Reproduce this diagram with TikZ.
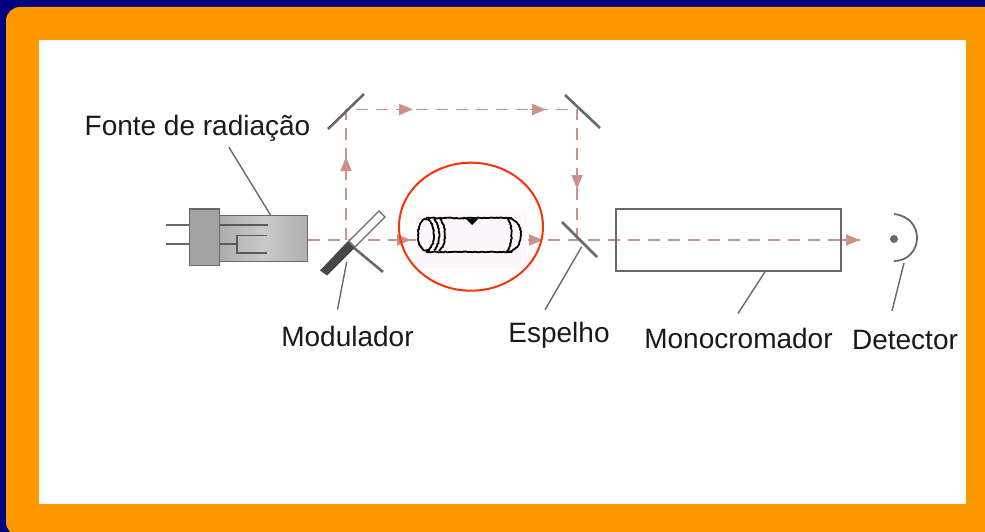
\documentclass[tikz,border=0pt]{standalone}
\usepackage{fontspec}
\setmainfont{Liberation Sans}
\usetikzlibrary{arrows.meta}
\usetikzlibrary{decorations.pathmorphing}
\usetikzlibrary{calc}
\definecolor{navyback}{RGB}{0,0,128}
\definecolor{orangeframe}{RGB}{255,153,0}
\definecolor{beamcol}{RGB}{205,145,138}
\definecolor{greyline}{RGB}{105,105,105}
\definecolor{redring}{RGB}{250,50,10}
\tikzset{
    beam/.style={beamcol, line width=1.9pt, dash pattern=on 12pt off 8pt},
    beamtip/.style={beamcol, line width=1.9pt, -{Triangle[length=14pt,width=11pt]}},
    mirror/.style={greyline, line width=2.6pt},
    leader/.style={greyline, line width=1.4pt},
    caption/.style={inner sep=0pt, font=\fontsize{28}{30}\selectfont, text=black!90},
    tubeline/.style={black, line width=1.8pt, decorate, decoration={random steps,segment length=1.6pt,amplitude=0.5pt}},
}
\begin{document}
\begin{tikzpicture}[x=1pt,y=-1pt]
    \useasboundingbox (0,0) rectangle (985,532);
    \fill[navyback] (0,0) rectangle (985,532);
    \fill[orangeframe, rounded corners=14pt] (6,7) rectangle (1010,536);
    \fill[white] (39,40) rectangle (966,504);

    % named points of the beam
    \coordinate (modcentre) at (346,240);
    \coordinate (topleft) at (346,109.5);
    \coordinate (topright) at (577,109.5);
    \coordinate (splitcentre) at (577,240);
    \coordinate (beamend) at (860,240);

    % source
    \node[draw=greyline, line width=1.4pt, left color=gray!65, right color=gray!62, middle color=gray!42, minimum width=88.5pt, minimum height=46pt, inner sep=0pt] (lampbody) at (263.5,238.7) {};
    \node[draw=greyline, line width=1.4pt, fill=gray!72, minimum width=30pt, minimum height=56.5pt, inner sep=0pt] (lampbase) at (204.3,237.4) {};
    \coordinate (pina) at (166,225);
    \coordinate (pinb) at (166,244);
    \draw[leader] (pina) -- (pina -| lampbase.west);
    \draw[leader] (pinb) -- (pinb -| lampbase.west);
    \draw[greyline!85!black, line width=1.5pt] (lampbase.east |- pina) -- (268,225);
    \draw[greyline!85!black, line width=1.5pt] (lampbase.east |- pinb) -- (237,244);
    \draw[greyline!85!black, line width=1.5pt] (267,235.7) -- (237,235.7) -- (237,253) -- (267,253);

    % beam
    \draw[beam] (lampbody.east |- modcentre) -- (416,240);
    \draw[beam] (modcentre) -- (topleft) -- (topright) -- (splitcentre);
    \draw[beam] (528,240) -- (beamend);
    \draw[beamtip] (346,172) -- (346,157);
    \draw[beamtip] (397,109.5) -- (413,109.5);
    \draw[beamtip] (530,109.5) -- (546,109.5);
    \draw[beamtip] (577,173) -- (577,189);
    \draw[beamtip] (396,240) -- (411,240);
    \draw[beamtip] (528,240) -- (543,240);
    \draw[beamtip] (838,240) -- (beamend);

    % mirrors
    \draw[mirror] (328,129) -- (364,94);
    \draw[mirror] (565,95) -- (600,128);
    \draw[mirror] (562,222) -- (597,257);
    \draw[mirror] (353,247) -- (383,272);
    \draw[greyline, line width=1.4pt, fill=white] (349,241) -- (379,211) -- (385,217) -- (355,247) -- cycle;
    \fill[black!72] (320,270.5) -- (348,241) -- (354.5,248) -- (327,275.5) -- cycle;

    % cell
    \fill[violet!3] (416,211) rectangle (527,268);
    \draw[tubeline] (426,218) -- (512,218);
    \draw[tubeline] (426,252) -- (512,252);
    \draw[tubeline] (426,235) ellipse (8 and 15.5);
    \draw[tubeline] (434,219) .. controls (441,226) and (441,244) .. (434,250);
    \draw[tubeline] (439,218) .. controls (447,226) and (447,244) .. (439,251);
    \draw[tubeline] (507,218) .. controls (514,218) and (521,225) .. (521,235) .. controls (521,245) and (514,252) .. (507,252);
    \draw[tubeline] (508,219) .. controls (513,226) and (513,244) .. (507,251);
    \fill[black] (466,219) -- (478,219) -- (472,225) -- cycle;
    \draw[redring, line width=2pt] (471,226.7) ellipse (72 and 64);

    % monochromator and detector
    \node[draw=greyline, line width=1.5pt, minimum width=225pt, minimum height=62pt, inner sep=0pt] (mono) at (728.5,240) {};
    \fill[greyline] (894,239) circle (4);
    \coordinate (detbottom) at (904,263);
    \draw[greyline, line width=1.8pt] (894,214) .. controls (910,216) and (917,227) .. (917,238) .. controls (917,250) and (908,261) .. (894,261);

    % labels
    \node[caption] (fonte) at (197.5,128) {Fonte de radiação};
    \node[caption] (modulador) at (347.5,336) {Modulador};
    \node[caption] (espelho) at (559,335) {Espelho};
    \node[caption] (monolabel) at (738.5,338) {Monocromador};
    \node[caption] (detector) at (905,340) {Detector};

    \draw[leader] ([xshift=31.5pt,yshift=-6pt]fonte.south) -- ([xshift=7pt]lampbody.north);
    \draw[leader] ([xshift=-10pt,yshift=16pt]modulador.north) -- (346.7,262);
    \draw[leader] ([xshift=-14pt,yshift=12pt]espelho.north) -- (581.7,246.7);
    \draw[leader] ([xshift=-0.5pt,yshift=14pt]monolabel.north) -- ([xshift=36.5pt]mono.south);
    \draw[leader] ([xshift=-13pt,yshift=19pt]detector.north) -- (detbottom);
\end{tikzpicture}
\end{document}
